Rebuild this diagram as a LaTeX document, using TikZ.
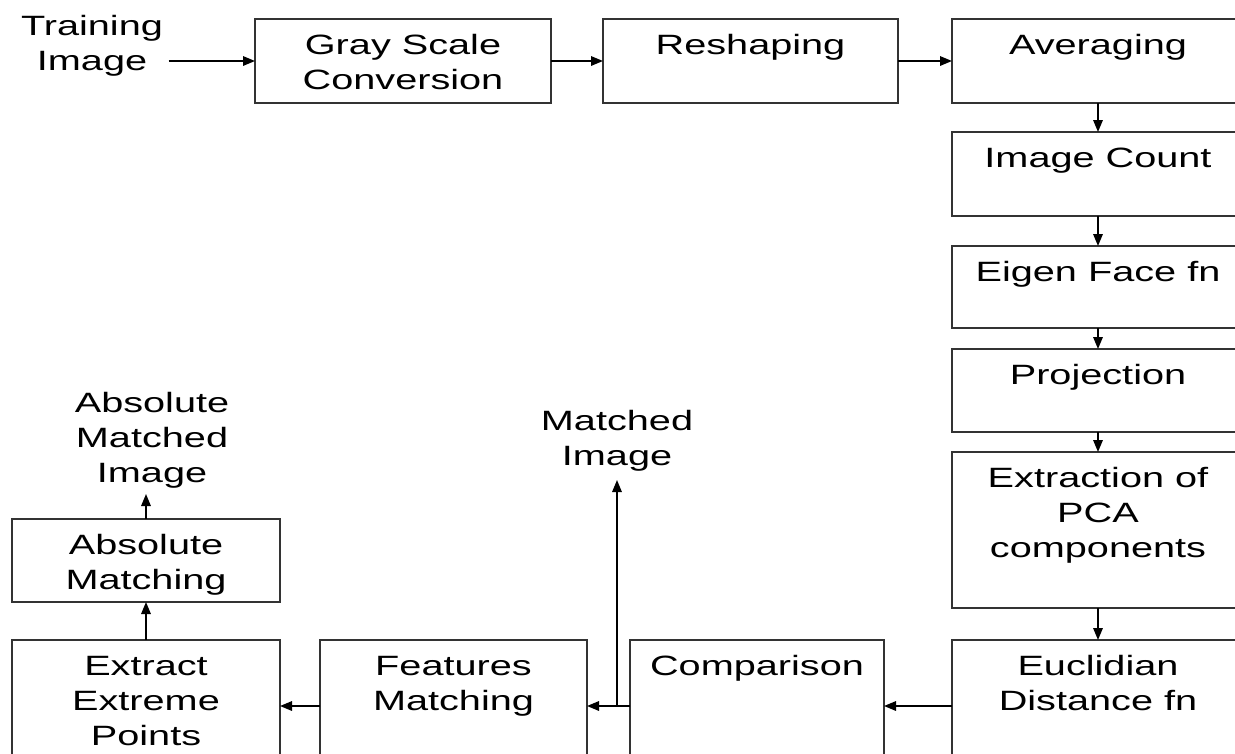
\documentclass[tikz,border=0pt]{standalone}
\usepackage{fontspec}
\setmainfont[FakeStretch=1.42]{Liberation Sans}
\usetikzlibrary{arrows.meta,positioning,calc}

\tikzset{
  blk/.style={rectangle, draw=black!80, align=center, inner ysep=0pt, outer sep=0pt},
  lbl/.style={align=center, inner sep=0.1cm},
}

\begin{document}
\begin{tikzpicture}[font=\fontsize{15.9}{19.9}\selectfont, line width=0.9pt, >={Triangle[length=0.24cm,width=0.19cm]}]
  \useasboundingbox (0,0) rectangle (24.7,-15.06);

  \node(train) [lbl] at (1.84,-0.92) {Training\\Image};
  \node(gray) [blk, minimum width=5.92cm, text height=1.4cm, text depth=0.28cm, anchor=north west] at (5.1,-0.38) {Gray Scale\\Conversion};
  \node(resh) [blk, minimum width=5.9cm, text height=0.7cm, text depth=0.98cm, right=1.04cm of gray] {Reshaping};
  \node(avg) [blk, minimum width=5.84cm, text height=0.7cm, text depth=0.98cm, right=1.08cm of resh] {Averaging};
  \node(cnt) [blk, minimum width=5.84cm, text height=0.7cm, text depth=0.98cm, below=0.58cm of avg] {Image Count};
  \node(eig) [blk, minimum width=5.84cm, text height=0.7cm, text depth=0.94cm, below=0.6cm of cnt] {Eigen Face fn};
  \node(proj) [blk, minimum width=5.84cm, text height=0.7cm, text depth=0.96cm, below=0.42cm of eig] {Projection};
  \node(pca) [blk, minimum width=5.84cm, text height=2.1cm, text depth=1.02cm, below=0.4cm of proj] {Extraction of\\PCA\\components};
  \node(eucl) [blk, minimum width=5.84cm, text height=1.4cm, text depth=1.24cm, below=0.64cm of pca] {Euclidian\\Distance fn};
  \node(cmp) [blk, minimum width=5.08cm, text height=0.7cm, text depth=1.94cm, left=1.36cm of eucl] {Comparison};
  \node(feat) [blk, minimum width=5.34cm, text height=1.4cm, text depth=1.24cm, left=0.86cm of cmp] {Features\\Matching};
  \node(ext) [blk, minimum width=5.36cm, text height=2.1cm, text depth=0.54cm, left=0.8cm of feat] {Extract\\Extreme\\Points};
  \node(absm) [blk, minimum width=5.36cm, text height=1.4cm, text depth=0.26cm, above=0.76cm of ext] {Absolute\\Matching};
  \node(absimg) [lbl, above=0.5cm of absm, xshift=0.12cm] {Absolute\\Matched\\Image};

  \coordinate (split) at ($(cmp.west)+(-0.26,0)$);
  \coordinate (mtip) at ($(split)+(0,4.52)$);
  \node(matched) [lbl, above=0.06cm of mtip] {Matched\\Image};

  \draw[->] (train.east |- gray) -- (gray);
  \draw[->] (gray) -- (resh);
  \draw[->] (resh) -- (avg);
  \draw[->] (avg) -- (cnt);
  \draw[->] (cnt) -- (eig);
  \draw[->] (eig) -- (proj);
  \draw[->] (proj) -- (pca);
  \draw[->] (pca) -- (eucl);
  \draw[->] (eucl) -- (cmp);
  \draw[->] (cmp) -- (feat);
  \draw[->] (split) -- (mtip);
  \draw[->] (feat) -- (ext);
  \draw[->] (ext) -- (absm);
  \draw[->] (absm.north -| ext) -- (absimg.south -| ext);
\end{tikzpicture}
\end{document}
